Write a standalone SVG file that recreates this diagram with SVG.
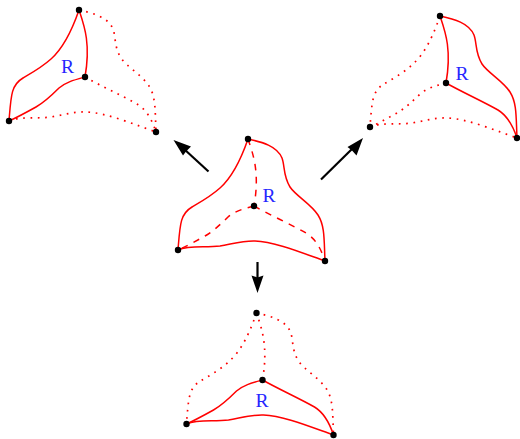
<svg xmlns="http://www.w3.org/2000/svg" width="520" height="439" viewBox="0 0 520 439">
<style>
.s,.d,.o{fill:none;stroke:#f00;stroke-width:1.5}
.d{stroke-dasharray:6.5 6.5}
.o{stroke-dasharray:1.7 5.6;stroke-width:1.7}
.v{fill:#000}
.a{stroke:#000;stroke-width:2.2;fill:none}
.h{fill:#000}
.r{font-family:"Liberation Serif",serif;font-size:19.5px;fill:#2626ff;text-anchor:middle}
</style>
<defs>
<path id="tl" d="M248,139C238,168 229,180 220,188C210,197 197,204 192,207C180,214 180,225 178,250"/>
<path id="tr" d="M248,139C262,142 277,146 282,158C285,166 283,176 290,187C296,196 311,204 318,215C325,226 324,240 325,261"/>
<path id="lr" d="M178,250C190,245 205,248 220,246C232,244 243,240.500 255,241C275,241.500 305,254 325,261"/>
<path id="tc" d="M248,139C253,154 260,172 254,206"/>
<path id="cl" d="M254,206C243,209 235,211 228,217C220,225 212,232 205,236C196,241 187,246 178,250"/>
<path id="cr" d="M254,206C270,215 290,224 306,233C316,239 321,249 325,261"/>
<g id="pts"><circle class="v" cx="248" cy="139" r="3.200"/><circle class="v" cx="178" cy="250" r="3.200"/><circle class="v" cx="325" cy="261" r="3.200"/><circle class="v" cx="254" cy="206" r="3.200"/></g>
</defs>
<g id="connectors">
<path class="a" d="M208.500,171.500L184,149"/><path class="h" d="M173.500,140L191,146.500L186,151.500L183,155.500Z"/>
<path class="a" d="M321,179.500L353,148"/><path class="h" d="M363,138L356.500,155.500L352,150.500L347.500,147Z"/>
<path class="a" d="M257.500,262L257.500,279"/><path class="h" d="M257.500,293L251.500,275.500L257.500,277.500L263.500,275.500Z"/>
</g>
<g id="node-center">
<use href="#tl" class="s"/><use href="#tr" class="s"/><use href="#lr" class="s"/><use href="#tc" class="d"/><use href="#cl" class="d"/><use href="#cr" class="d"/><use href="#pts"/>
<text class="r" x="269" y="201.500">R</text>
</g>
<g id="node-top-left">
<g transform="translate(-169,-129)"><use href="#tl" class="s"/><use href="#tc" class="s"/><use href="#cl" class="s"/><use href="#tr" class="o"/><use href="#lr" class="o"/><use href="#cr" class="o"/><use href="#pts"/></g>
<text class="r" x="67.500" y="73">R</text>
</g>
<g id="node-top-right">
<g transform="translate(192,-123)"><use href="#tr" class="s"/><use href="#tc" class="s"/><use href="#cr" class="s"/><use href="#tl" class="o"/><use href="#lr" class="o"/><use href="#cl" class="o"/><use href="#pts"/></g>
<text class="r" x="462" y="79.500">R</text>
</g>
<g id="node-bottom">
<g transform="translate(8.500,174)"><use href="#lr" class="s"/><use href="#cl" class="s"/><use href="#cr" class="s"/><use href="#tl" class="o"/><use href="#tr" class="o"/><use href="#tc" class="o"/><use href="#pts"/></g>
<text class="r" x="262" y="407">R</text>
</g>
</svg>
